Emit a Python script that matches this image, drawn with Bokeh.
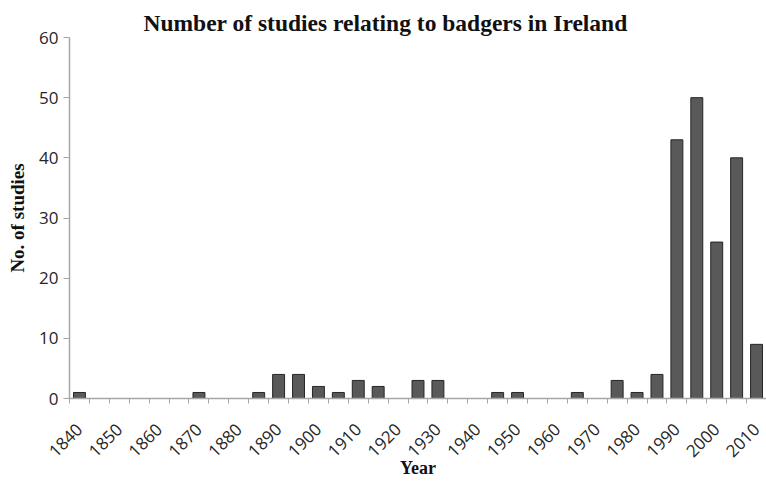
import math
from bokeh.plotting import figure
from bokeh.models import FixedTicker, ColumnDataSource
from bokeh.embed import file_html
from bokeh.resources import INLINE

years = [1840, 1845, 1850, 1855, 1860, 1865, 1870, 1875, 1880, 1885,
         1890, 1895, 1900, 1905, 1910, 1915, 1920, 1925, 1930, 1935,
         1940, 1945, 1950, 1955, 1960, 1965, 1970, 1975, 1980, 1985,
         1990, 1995, 2000, 2005, 2010]
studies = [1, 0, 0, 0, 0, 0, 1, 0, 0, 1,
           4, 4, 2, 1, 3, 2, 0, 3, 3, 0,
           0, 1, 1, 0, 0, 1, 0, 3, 1, 4,
           43, 50, 26, 40, 9]
label_years = list(range(1840, 2011, 10))
y_ticks = [0, 10, 20, 30, 40, 50, 60]

src = ColumnDataSource(dict(year=years, n=studies))

p = figure(width=766, height=481, output_backend="svg", toolbar_location=None,
           x_range=(1837.5, 2012.5), y_range=(0, 60),
           title="Number of studies relating to badgers in Ireland",
           min_border_left=69, min_border_right=0, min_border_top=37, min_border_bottom=83)
p.outline_line_color = None
p.xgrid.visible = False
p.ygrid.visible = False

p.vbar(x="year", top="n", width=3.0, source=src,
       fill_color="#595959", line_color="#262626", line_width=1)

p.title.text_font = "Liberation Serif"
p.title.text_font_style = "bold"
p.title.text_font_size = "23.5px"
p.title.text_color = "#111111"
p.title.align = "left"
p.title.vertical_align = "top"
p.title.offset = 74
p.title.standoff = 0

# x axis
xa = p.xaxis[0]
xa.ticker = FixedTicker(ticks=label_years,
                        minor_ticks=[y - 2.5 for y in years] + [2012.5])
xa.major_tick_out = 0
xa.major_tick_in = 0
xa.minor_tick_out = 5
xa.minor_tick_in = 0
xa.minor_tick_line_color = "#a6a6a6"
xa.axis_line_color = "#a6a6a6"
xa.axis_line_width = 1.5
xa.major_label_orientation = math.pi / 4
xa.major_label_text_font = "Open Sans"
xa.major_label_text_font_size = "17px"
xa.major_label_text_color = "#262626"
xa.major_label_standoff = 23
xa.axis_label = "Year"
xa.axis_label_text_font = "Liberation Serif"
xa.axis_label_text_font_style = "bold"
xa.axis_label_text_font_size = "18px"
xa.axis_label_text_color = "#111111"
xa.axis_label_standoff = -7

# y axis
ya = p.yaxis[0]
ya.ticker = FixedTicker(ticks=y_ticks)
ya.minor_tick_out = 0
ya.minor_tick_in = 0
ya.major_tick_out = 6
ya.major_tick_in = 0
ya.major_tick_line_color = "#a6a6a6"
ya.axis_line_color = "#a6a6a6"
ya.axis_line_width = 1.5
ya.major_label_text_font = "Open Sans"
ya.major_label_text_font_size = "17px"
ya.major_label_text_color = "#262626"
ya.major_label_standoff = 5
ya.axis_label = "No. of studies"
ya.axis_label_text_font = "Liberation Serif"
ya.axis_label_text_font_style = "bold"
ya.axis_label_text_font_size = "19px"
ya.axis_label_text_color = "#111111"
ya.axis_label_standoff = 8

open("out.html", "w").write(file_html(p, INLINE))
